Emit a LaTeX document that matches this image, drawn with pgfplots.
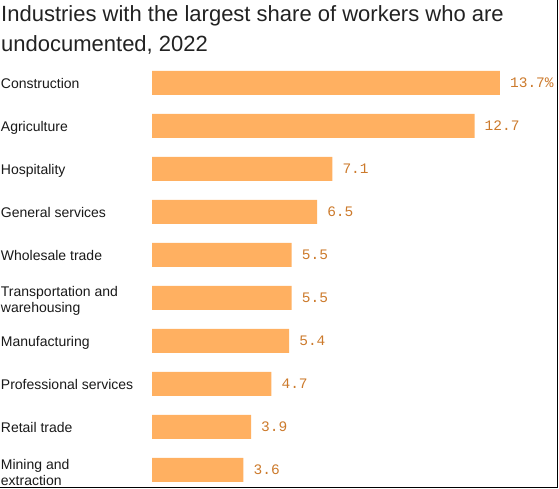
\documentclass[border=0pt]{standalone}
\usepackage{pgfplots}
\pgfplotsset{compat=1.18}
\usepackage{fontspec}
\setmainfont{Liberation Sans}
\newfontfamily\valfont{Liberation Mono}
\definecolor{barorange}{HTML}{FFB061}
\definecolor{valorange}{HTML}{CC7A2C}
\definecolor{titlegray}{HTML}{222222}

\begin{document}
\begin{tikzpicture}[x=1pt,y=1pt]
  \useasboundingbox (0,0) rectangle (559,489);
  % title
  \node[anchor=base west, inner sep=0pt, text=titlegray,
        font=\fontsize{22}{30}\selectfont] at (1,467) {Industries with the largest share of workers who are};
  \node[anchor=base west, inner sep=0pt, text=titlegray,
        font=\fontsize{22}{30}\selectfont] at (1,437) {undocumented, 2022};
  \begin{axis}[
    at={(152pt,427.5pt)}, anchor=north west,
    scale only axis,
    width=400pt, height=430pt,
    xbar, bar width=24pt,
    xmin=0, xmax=15.75,
    ymin=-0.5, ymax=9.5,
    y dir=reverse,
    clip=false,
    axis line style={draw=none},
    tick style={draw=none},
    xtick=\empty,
    ytick={0,...,9},
    yticklabels={Construction, Agriculture, Hospitality, General services,
      Wholesale trade, {Transportation and\\warehousing}, Manufacturing,
      Professional services, Retail trade, {Mining and\\extraction}},
    typeset ticklabels with strut,
    yticklabel style={anchor=west, align=left, inner sep=0pt,
      xshift=-147pt, yshift=-2pt,
      font=\fontsize{14}{16.5}\selectfont, text=black!90},
    point meta=explicit symbolic,
    nodes near coords,
    nodes near coords style={anchor=west, inner sep=0pt, xshift=10pt,
      font=\valfont\fontsize{14.5}{16}\selectfont, text=valorange},
    ]
    \addplot[fill=barorange, draw=none] coordinates {
      (13.7,0) [13.7\%]
      (12.7,1) [12.7]
      (7.1,2) [7.1]
      (6.5,3) [6.5]
      (5.5,4) [5.5]
      (5.5,5) [5.5]
      (5.4,6) [5.4]
      (4.7,7) [4.7]
      (3.9,8) [3.9]
      (3.6,9) [3.6]
    };
  \end{axis}
  % screenshot frame on right and bottom
  \draw[black, line width=1.2pt] (557.6,489) -- (557.6,1.4) -- (0,1.4);
\end{tikzpicture}
\end{document}
